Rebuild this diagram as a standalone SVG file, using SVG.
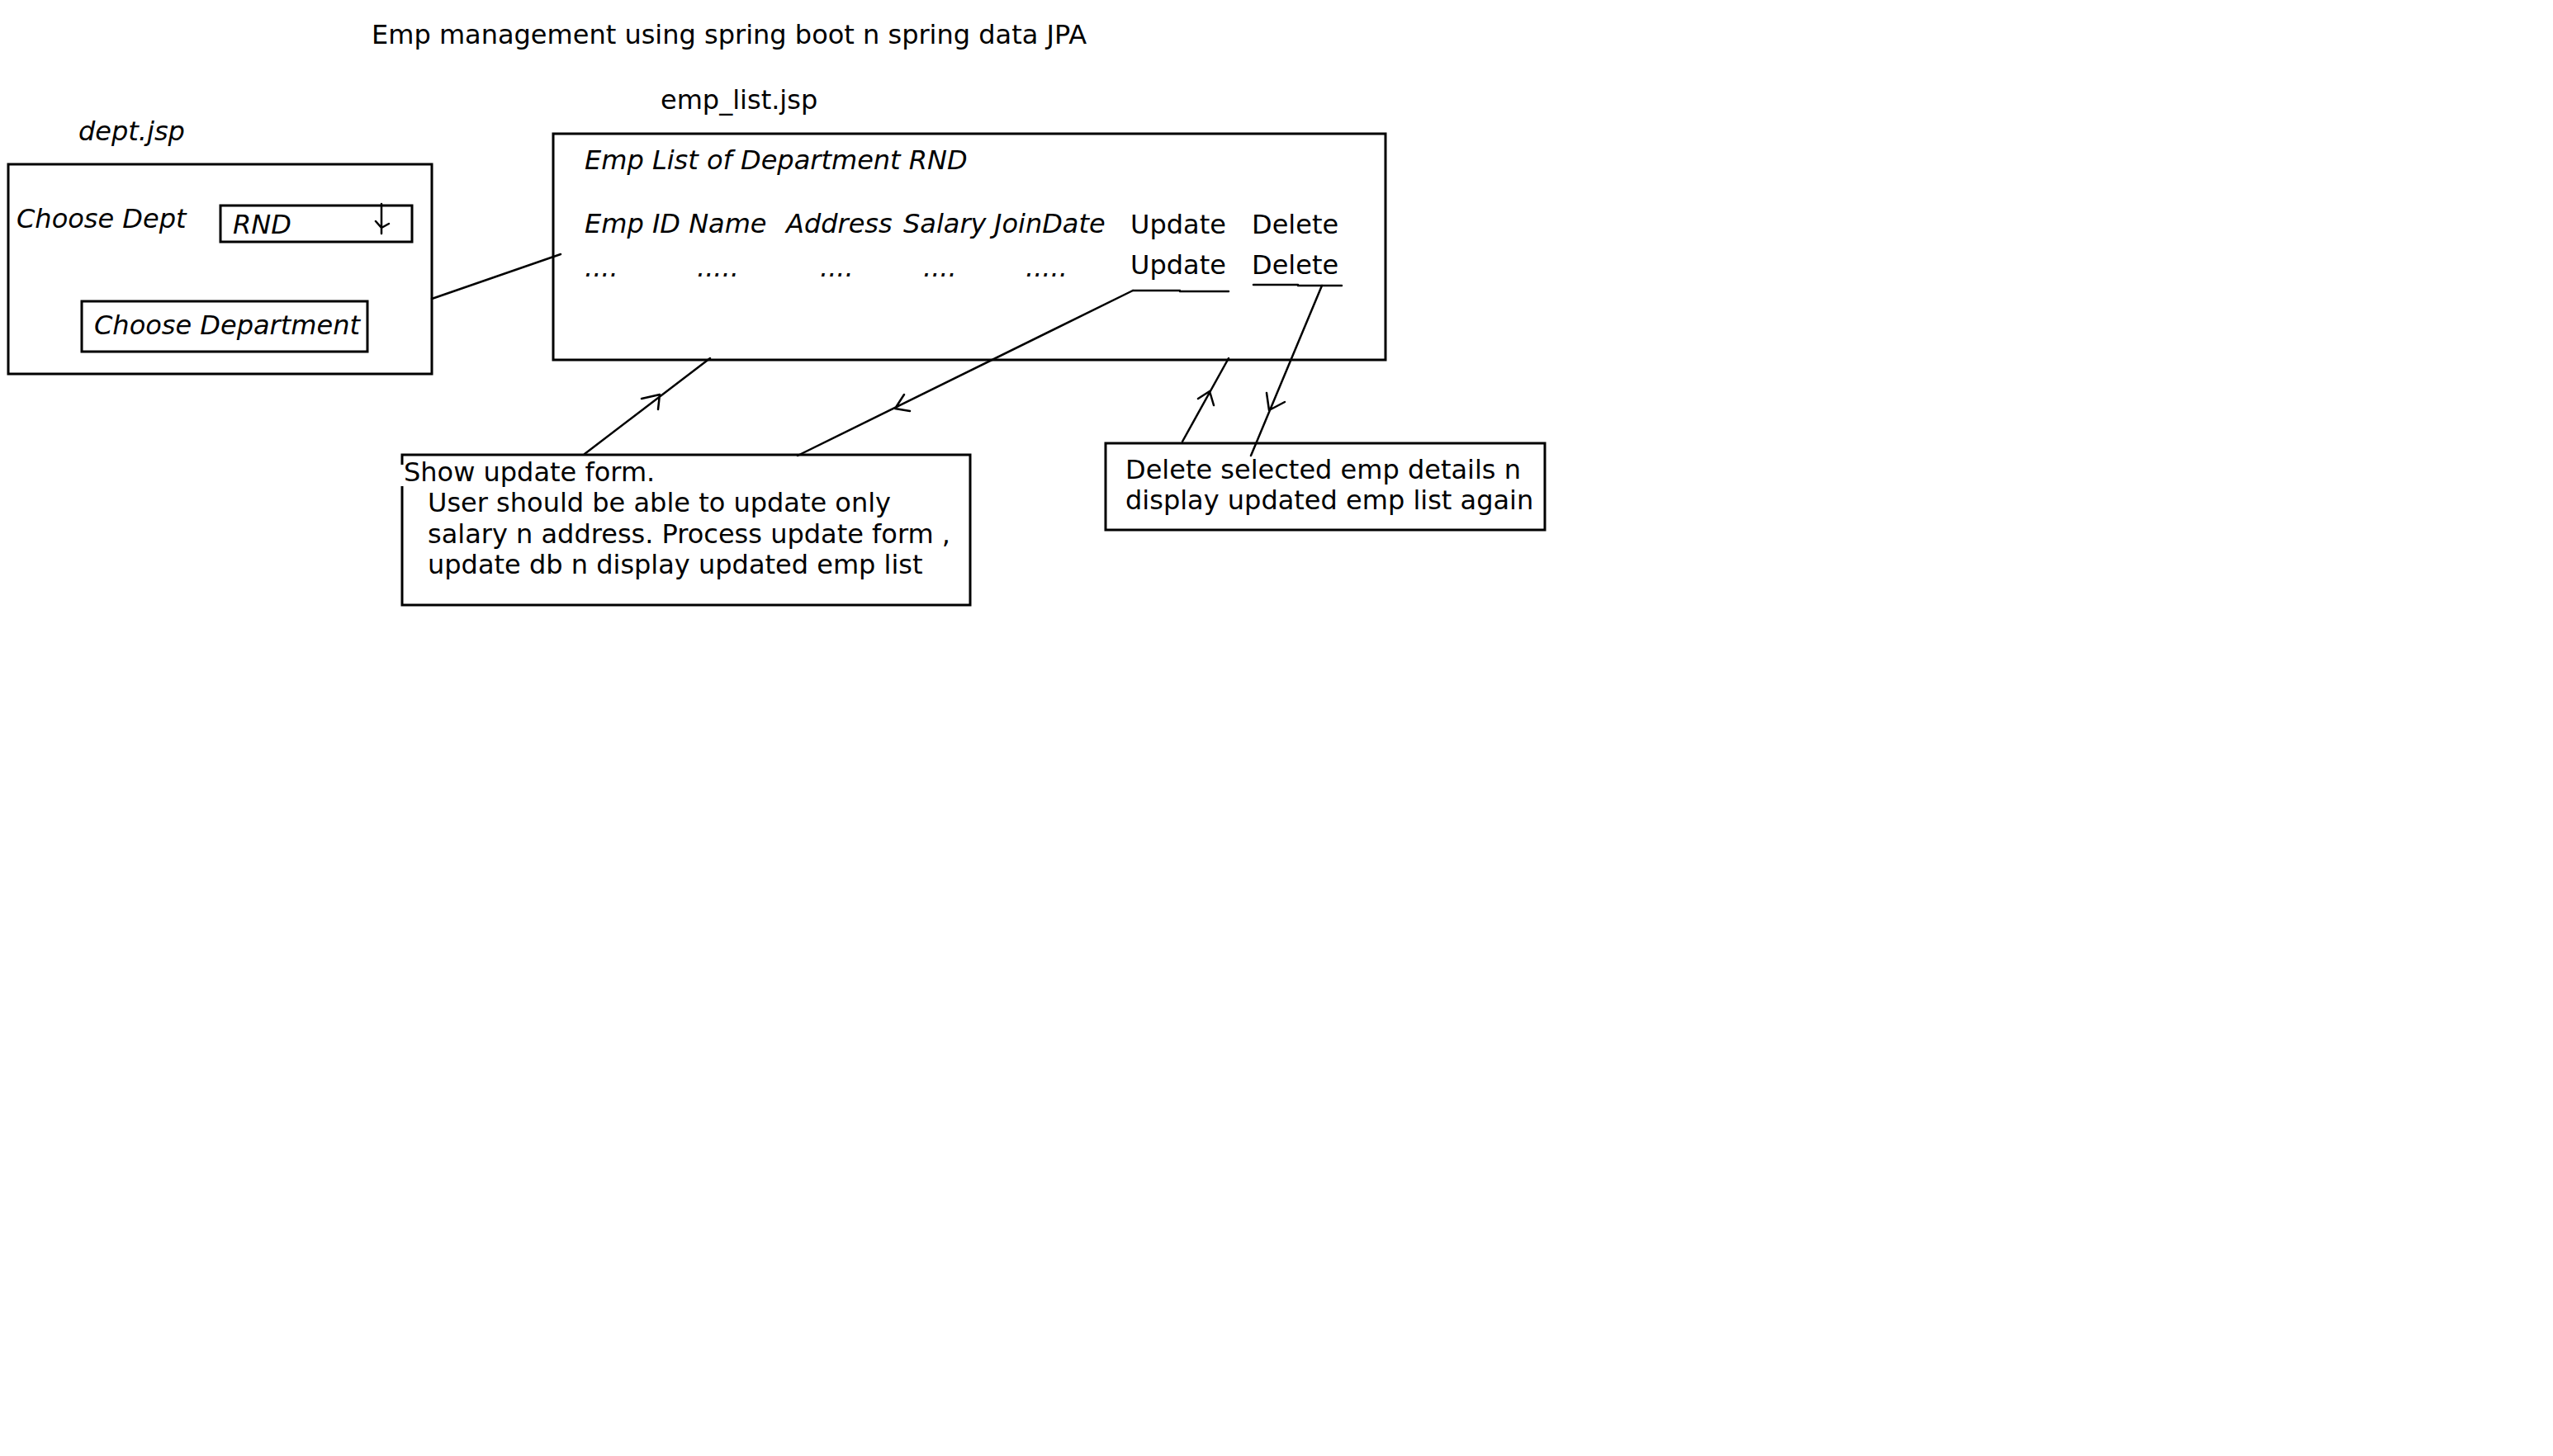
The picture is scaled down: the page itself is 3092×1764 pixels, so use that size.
<svg xmlns="http://www.w3.org/2000/svg" width="3092" height="1764" viewBox="0 0 3092 1764">
  <style>
    text { font-family: "DejaVu Sans", Verdana, sans-serif; font-size: 32px; fill: #000; }
    .it { font-style: italic; }
    .box { fill: none; stroke: #000; stroke-width: 3; }
    .ln { fill: none; stroke: #000; stroke-width: 2.5; stroke-linecap: round; stroke-linejoin: round; }
  </style>
  <rect width="3092" height="1764" fill="#fff"/>

  <text id="title" x="450" y="53">Emp management using spring boot n spring data JPA</text>

  <!-- department chooser page -->
  <g id="dept">
    <text class="it" x="95" y="170">dept.jsp</text>
    <rect class="box" x="10" y="199" width="513" height="254"/>
    <text class="it" x="20" y="276">Choose Dept</text>
    <rect class="box" x="267" y="249" width="232" height="44"/>
    <text class="it" x="282" y="283">RND</text>
    <path class="ln" d="M462 247 L462 283 M455 268 L462 276 L471 271"/>
    <rect class="box" x="99" y="365" width="346" height="61"/>
    <text class="it" x="114" y="405">Choose Department</text>
  </g>

  <!-- employee list page -->
  <g id="emp_list">
    <text x="800" y="132">emp_list.jsp</text>
    <rect class="box" x="670" y="162" width="1008" height="274"/>
    <text class="it" x="708" y="205">Emp List of Department RND</text>
    <text class="it" x="708" y="282">Emp ID Name</text>
    <text class="it" x="952" y="282">Address</text>
    <text class="it" x="1094" y="282">Salary</text>
    <text class="it" x="1204" y="282">JoinDate</text>
    <text x="1369" y="283">Update</text>
    <text x="1516" y="283">Delete</text>
    <text class="it" x="708" y="335">....</text>
    <text class="it" x="844" y="335">.....</text>
    <text class="it" x="993" y="335">....</text>
    <text class="it" x="1118" y="335">....</text>
    <text class="it" x="1242" y="335">.....</text>
    <text x="1369" y="332">Update</text>
    <text x="1516" y="332">Delete</text>
    <path class="ln" d="M1372 352 L1429 352 L1429 353 L1488 353"/>
    <path class="ln" d="M1518 345 L1572 345 L1572 346 L1625 346"/>
  </g>

  <!-- update form note -->
  <g id="update_note">
    <rect class="box" x="487" y="551" width="688" height="182"/>
    <rect x="484" y="563" width="312" height="26" fill="#fff"/>
    <text x="489" y="583">Show update form.</text>
    <text x="518" y="620">User should be able to update only</text>
    <text x="518" y="658">salary n address. Process update form ,</text>
    <text x="518" y="695">update db n display updated emp list</text>
  </g>

  <!-- delete note -->
  <g id="delete_note">
    <rect class="box" x="1339" y="537" width="532" height="105"/>
    <text x="1363" y="580">Delete selected emp details n</text>
    <text x="1363" y="617">display updated emp list again</text>
  </g>

  <!-- connectors with open arrowheads drawn mid-line -->
  <g id="connectors">
    <path class="ln" d="M523 362 L679 308"/>
    <path class="ln" d="M708 550 L860 434 M777 483 L799 478 L797 496"/>
    <path class="ln" d="M1372 352 L966 552 M1095 478 L1084 495 L1102 498"/>
    <path class="ln" d="M1432 535 L1488 434 M1451 483 L1465 474 L1470 491"/>
    <path class="ln" d="M1601 346 L1515 552 M1534 476 L1537 497 L1556 487"/>
  </g>
</svg>
